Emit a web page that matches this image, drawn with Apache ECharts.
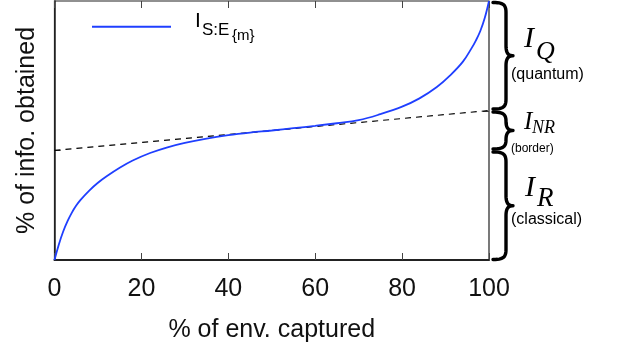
<!DOCTYPE html>
<html>
<head>
<meta charset="utf-8">
<script src="https://cdn.jsdelivr.net/npm/echarts@6/dist/echarts.min.js"></script>
<style>
html,body{margin:0;padding:0;background:#fff;}
#chart{width:618px;height:349px;}
</style>
</head>
<body>
<div id="chart"></div>
<script>
// ---- data ----
var envCaptured = [0, 1, 2, 3, 4, 5, 6, 8, 10, 12, 15, 18, 22, 26, 30, 35, 40, 45, 50, 55, 60, 65, 70, 75, 80, 84, 88, 91, 94, 96, 97, 98, 99, 100];
var infoObtained = [0, 6, 11, 15, 18.3, 21, 23.2, 26.8, 29.8, 32.3, 35.6, 38.4, 41.3, 43.5, 45.2, 46.9, 48.2, 49.2, 50, 50.9, 51.8, 52.8, 54, 56.3, 59.2, 62.4, 66.8, 71.2, 76.6, 81.8, 84.8, 88.4, 93.3, 100];
var borderEnv = [0, 100];
var borderInfo = [42.3, 57.7];
var xTicks = [0, 20, 40, 60, 80, 100];
var braceLevels = [100, 57.7, 42.3, 0];

var curve = envCaptured.map(function (x, i) { return [x, infoObtained[i]]; });
var border = borderEnv.map(function (x, i) { return [x, borderInfo[i]]; });

var chart = echarts.init(document.getElementById('chart'), null, {renderer: 'canvas'});
var sans = 'Liberation Sans';
var serif = 'Liberation Serif';

var option = {
  animation: false,
  backgroundColor: '#fff',
  grid: {left: 54.5, right: 129, top: 1, bottom: 89, show: true, borderColor: '#222', borderWidth: 1.2, backgroundColor: 'transparent'},
  legend: {
    data: [{name: 'I_SE', icon: 'rect'}],
    left: 87, top: 20.7, itemWidth: 79, itemHeight: 2,
    formatter: function () { return ''; },
    textStyle: {fontSize: 1}
  },
  xAxis: [{
    type: 'value', min: xTicks[0], max: xTicks[xTicks.length - 1], interval: 20,
    position: 'bottom',
    name: '% of env. captured', nameLocation: 'middle', nameGap: 58,
    nameTextStyle: {fontFamily: sans, fontSize: 25, color: '#111'},
    axisLine: {show: true, lineStyle: {color: '#222', width: 2}},
    axisTick: {show: true, inside: true, length: 7, lineStyle: {color: '#444', width: 1}},
    axisLabel: {show: true, margin: 17, fontFamily: sans, fontSize: 25, color: '#111'},
    splitLine: {show: false}
  }, {
    type: 'value', min: xTicks[0], max: xTicks[xTicks.length - 1], interval: 20,
    position: 'top',
    axisLine: {show: false},
    axisTick: {show: true, inside: true, length: 7, lineStyle: {color: '#444', width: 1}},
    axisLabel: {show: false},
    splitLine: {show: false}
  }],
  yAxis: [{
    type: 'value', min: 0, max: 100, position: 'left',
    name: '% of info. obtained', nameLocation: 'middle', nameGap: 15,
    nameTextStyle: {fontFamily: sans, fontSize: 25, color: '#111'},
    axisLine: {show: true, lineStyle: {color: '#222', width: 1.5}},
    axisTick: {show: false},
    axisLabel: {show: false},
    splitLine: {show: false}
  }],
  series: [{
    name: 'I_SE', type: 'line', data: curve, xAxisIndex: 0, yAxisIndex: 0,
    smooth: 0.4, symbol: 'none', showSymbol: false,
    lineStyle: {color: '#1f3fff', width: 1.8}, itemStyle: {color: '#1f3fff'},
    z: 3
  }, {
    name: 'border', type: 'line', data: border, xAxisIndex: 0, yAxisIndex: 0,
    symbol: 'none', showSymbol: false,
    lineStyle: {color: '#000', width: 1.2, type: [6, 5]}, z: 2
  }]
};
chart.setOption(option);

// braces and border ticks, positioned from the scales
var gx0 = chart.convertToPixel({xAxisIndex: 0}, 0);
var gx = chart.convertToPixel({xAxisIndex: 0}, 100);
var ys = braceLevels.map(function (v) { return chart.convertToPixel({yAxisIndex: 0}, v); });
var yL = chart.convertToPixel({yAxisIndex: 0}, borderInfo[0]);
var yR = chart.convertToPixel({yAxisIndex: 0}, borderInfo[1]);
function bez(p0, p1, p2, p3, out) {
  for (var i = 0; i <= 12; i++) {
    var t = i / 12, u = 1 - t;
    out.push([
      u * u * u * p0[0] + 3 * u * u * t * p1[0] + 3 * u * t * t * p2[0] + t * t * t * p3[0],
      u * u * u * p0[1] + 3 * u * u * t * p1[1] + 3 * u * t * t * p2[1] + t * t * t * p3[1]
    ]);
  }
}
function bracePoints(y1, y2) {
  var x0 = gx + 4, xs = gx + 17, xt = gx + 24;
  var ym = (y1 + y2) / 2;
  var r = Math.min(10, (y2 - y1) / 4);
  var pts = [];
  bez([x0, y1], [xs - 3, y1], [xs, y1 + 2], [xs, y1 + r], pts);
  bez([xs, ym - r], [xs, ym - 3], [xs + 2, ym], [xt, ym], pts);
  bez([xt, ym], [xs + 2, ym], [xs, ym + 3], [xs, ym + r], pts);
  bez([xs, y2 - r], [xs, y2 - 2], [xs - 3, y2], [x0, y2], pts);
  return pts;
}
var braceStyle = {fill: null, stroke: '#000', lineWidth: 3.4, lineCap: 'round', lineJoin: 'round'};
var tickStyle = {stroke: '#444', lineWidth: 1};
var graphics = [
  {type: 'polyline', shape: {points: bracePoints(ys[0] + 1.5, ys[1] - 1.5)}, style: braceStyle},
  {type: 'polyline', shape: {points: bracePoints(ys[1] + 1.5, ys[2] - 1.5)}, style: braceStyle},
  {type: 'polyline', shape: {points: bracePoints(ys[2] + 1.5, ys[3] - 0.5)}, style: braceStyle},
  {type: 'line', shape: {x1: gx0, y1: Math.round(yL) + 0.5, x2: gx0 + 6, y2: Math.round(yL) + 0.5}, style: tickStyle},
  {type: 'line', shape: {x1: gx - 6, y1: Math.round(yR) + 0.5, x2: gx, y2: Math.round(yR) + 0.5}, style: tickStyle}
];
function txt(x, y, s, size, fam, italic) {
  return {type: 'text', x: x, y: y, style: {text: s, fontSize: size, fontFamily: fam, fontStyle: italic ? 'italic' : 'normal', fill: '#000', align: 'left', verticalAlign: 'middle'}};
}
// labels
graphics.push(txt(524, 38.8, 'I', 30, serif, true));
graphics.push(txt(536, 52, 'Q', 26, serif, true));
graphics.push(txt(511, 74.6, '(quantum)', 16, sans, false));
graphics.push(txt(524, 122.4, 'I', 25, serif, true));
graphics.push(txt(532, 128, 'NR', 18, serif, true));
graphics.push(txt(511, 148.8, '(border)', 12, sans, false));
graphics.push(txt(525, 187.8, 'I', 30, serif, true));
graphics.push(txt(537, 198.8, 'R', 27, serif, true));
graphics.push(txt(511, 219.6, '(classical)', 16, sans, false));
// legend label
graphics.push(txt(195, 21.5, 'I', 21, sans, false));
graphics.push(txt(202, 30, 'S:E', 17, sans, false));
graphics.push(txt(232, 35.4, '{m}', 15, sans, false));
chart.setOption({graphic: graphics});
</script>
</body>
</html>
